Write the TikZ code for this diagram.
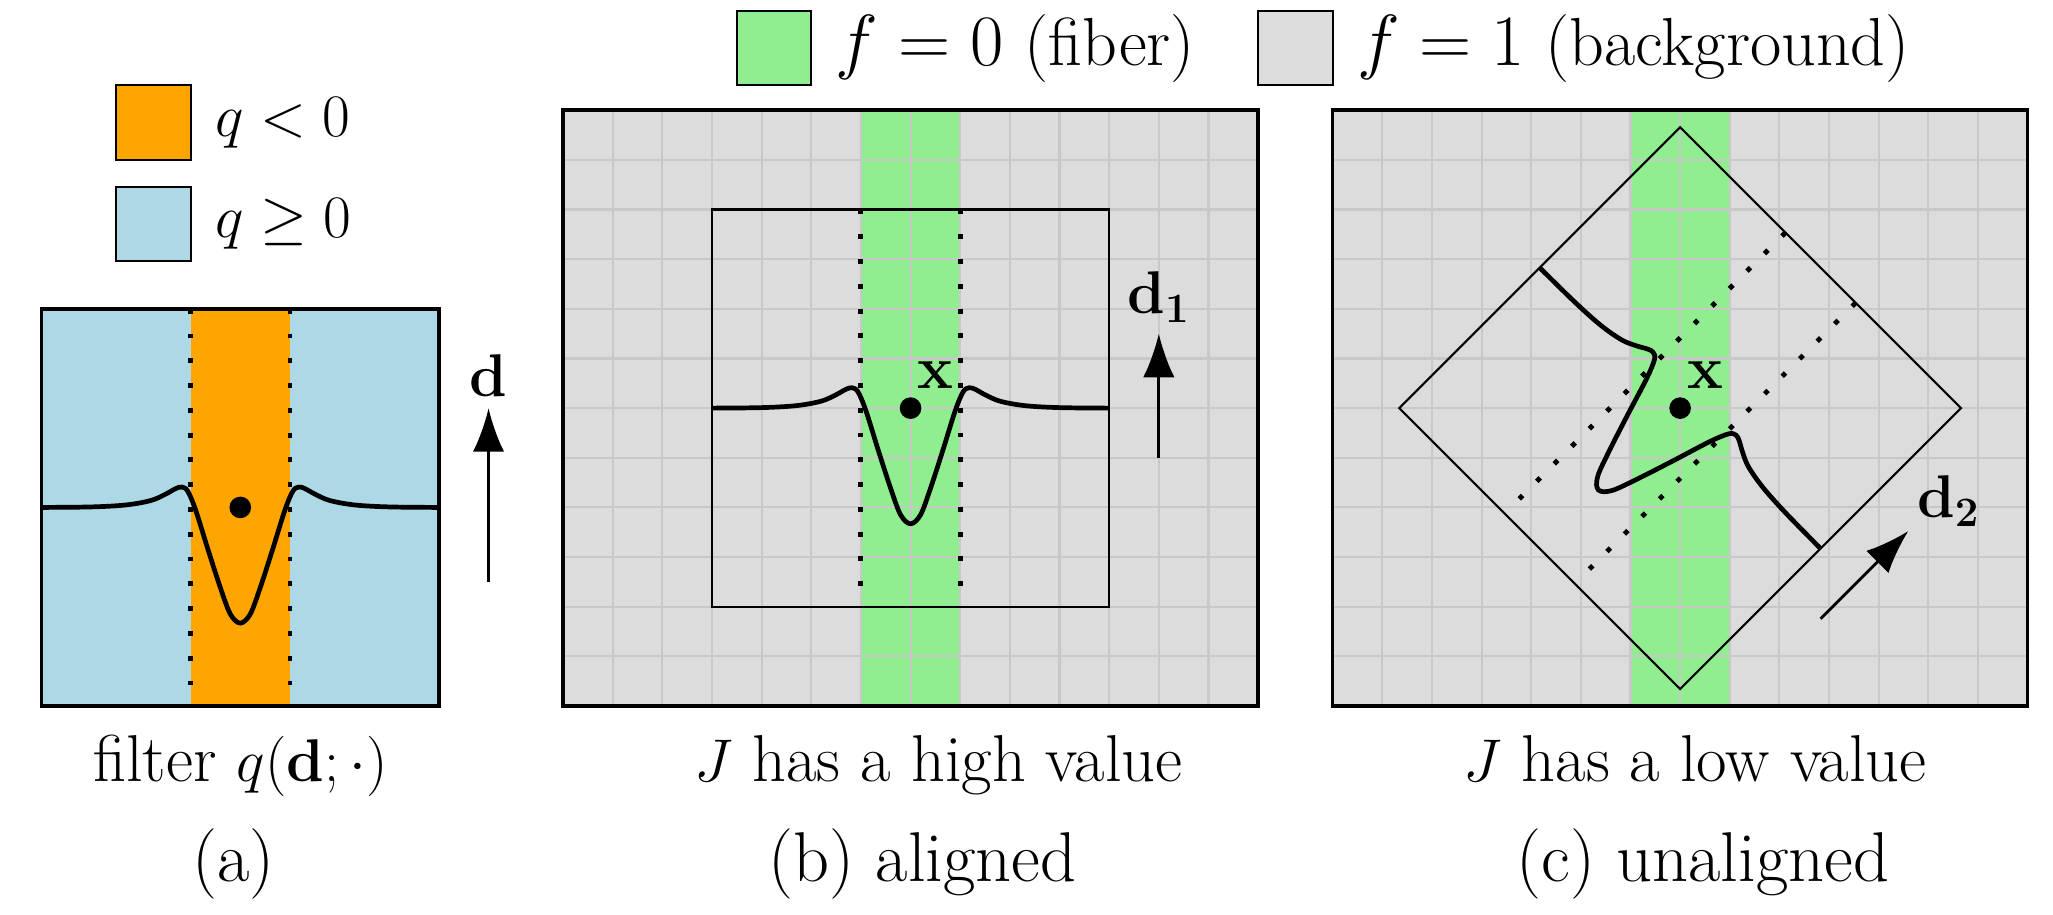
\documentclass[tikz,border=0pt]{standalone}
\usetikzlibrary{positioning, arrows.meta, graphs}
\definecolor{qneg}{RGB}{255,165,0}
\definecolor{qpos}{RGB}{173,216,230}
\definecolor{fibergreen}{RGB}{144,238,144}
\definecolor{backgray}{RGB}{220,220,220}
\definecolor{gridgray}{RGB}{200,200,200}

\begin{document}
\begin{tikzpicture}[x=0.5cm, y=0.5cm, node distance=10pt,
    >={Latex[length=12.5pt,width=9pt]},
    frame/.style={draw, line width=1pt, inner sep=0pt},
    window/.style={draw, semithick, inner sep=0pt, minimum size=4cm},
    swatch/.style={draw, semithick, minimum size=0.75cm, inner sep=0pt},
    legend/.style={inner sep=3pt, font=\fontsize{18.3}{22}\selectfont},
    caption/.style={inner sep=3pt, font=\fontsize{19}{23}\selectfont, text height=14.3pt, text depth=4.8pt},
    tag/.style={inner sep=3pt, font=\fontsize{20.2}{24}\selectfont, text height=15.2pt, text depth=5.1pt},
    vec/.style={inner sep=3pt, font=\LARGE},
    strip edge/.style={dash pattern=on 1.4pt off 5.7pt, line width=1.4pt},
    grid line/.style={gridgray, line width=0.6pt, step=1},
    dot/.style={circle, fill, inner sep=0pt, minimum size=6.2pt},
    filter wave/.pic={
        \draw[line width=1.35pt] plot[smooth, tension=0.55] coordinates {
            (-4,0) (-3,0.01) (-2.3,0.05) (-1.8,0.14) (-1.5,0.27) (-1.3,0.38)
            (-1.18,0.41) (-1.06,0.33) (-0.9,-0.05) (-0.65,-0.85) (-0.4,-1.62)
            (-0.2,-2.15) (0,-2.33) (0.2,-2.15) (0.4,-1.62) (0.65,-0.85)
            (0.9,-0.05) (1.06,0.33) (1.18,0.41) (1.3,0.38) (1.5,0.27)
            (1.8,0.14) (2.3,0.05) (3,0.01) (4,0)};
    }]
    \useasboundingbox (-18.34,-10.19) rectangle (23.01,8.22);

    \fill[qpos] (-17.5,-6) rectangle (-9.5,2);
    \fill[qneg] (-14.5,-6) rectangle (-12.5,2);
    \draw[strip edge] (-14.5,2) -- (-14.5,-6) (-12.5,2) -- (-12.5,-6);
    \pic at (-13.5,-2) {filter wave};
    \node[dot] (Center a) at (-13.5,-2) {};
    \node[frame, minimum width=4cm, minimum height=4cm] (Box a) at (-13.5,-2) {};
    \coordinate (Tail a) at (-8.5,-3.5);
    \coordinate (Tip a) at (-8.5,0);
    \node[vec, above=0pt of Tip a] (Label a) {$\mathbf{d}$};

    \node[swatch, fill=qneg] (Swatch Neg) at (-15.25,5.75) {};
    \node[swatch, fill=qpos, below=0.25cm of Swatch Neg] (Swatch Pos) {};
    \node[legend, right=3.5pt of Swatch Neg] (Legend Neg) {$q < 0$};
    \node[legend, right=3.5pt of Swatch Pos] (Legend Pos) {$q \geq 0$};

    \fill[backgray] (-7,-6) rectangle (7,6);
    \fill[fibergreen] (-1,-6) rectangle (1,6);
    \draw[grid line] (-7,-6) grid (7,6);
    \node[window] (Window b) at (0,0) {};
    \draw[strip edge] (-1,4) -- (-1,-4) (1,4) -- (1,-4);
    \pic at (0,0) {filter wave};
    \node[dot] (Center b) at (0,0) {};
    \node[vec, above right=0pt and -3.5pt of Center b] (Point b) {$\mathbf{x}$};
    \coordinate (Tail b) at (5,-1);
    \coordinate (Tip b) at (5,1.5);
    \node[vec, above=0pt of Tip b] (Label b) {$\mathbf{d_1}$};
    \node[frame, minimum width=7cm, minimum height=6cm] (Box b) at (0,0) {};

    \begin{scope}[shift={(15.5,0)}]
        \fill[backgray] (-7,-6) rectangle (7,6);
        \fill[fibergreen] (-1,-6) rectangle (1,6);
        \draw[grid line] (-7,-6) grid (7,6);
        \begin{scope}[rotate=-45]
            \node[window, rotate=-45] (Window c) at (0,0) {};
            \draw[strip edge] (-1,4) -- (-1,-4) (1,4) -- (1,-4);
            \pic[transform shape] {filter wave};
            \coordinate (Tail c) at (5,-1);
            \coordinate (Tip c) at (5,1.5);
        \end{scope}
        \node[dot] (Center c) at (0,0) {};
        \node[frame, minimum width=7cm, minimum height=6cm] (Box c) at (0,0) {};
    \end{scope}
    \node[vec, above right=0pt and -3.5pt of Center c] (Point c) {$\mathbf{x}$};
    \node[vec, above right=-2pt and -0.7pt of Tip c] (Label c) {$\mathbf{d_2}$};

    \node[swatch, fill=fibergreen] (Swatch Fiber) at (-2.75,7.25) {};
    \node[legend, font=\fontsize{19.5}{23}\selectfont, right=3.5pt of Swatch Fiber] (Legend Fiber) {$f = 0$ (fiber)};
    \node[swatch, fill=backgray] (Swatch Background) at (7.75,7.25) {};
    \node[legend, font=\fontsize{19.5}{23}\selectfont, right=3.5pt of Swatch Background] (Legend Background) {$f = 1$ (background)};

    \node[caption, below=3.6pt of Box a] (Caption a) {filter $q(\mathbf{d};\cdot)$};
    \node[tag, below=2.2pt of Caption a, xshift=-0.07cm] (Tag a) {(a)};
    \node[caption, below=3.6pt of Box b, xshift=0.28cm] (Caption b) {$J$ has a high value};
    \node[tag, below=2.2pt of Caption b, xshift=-0.16cm] (Tag b) {(b) aligned};
    \node[caption, below=3.6pt of Box c, xshift=0.15cm] (Caption c) {$J$ has a low value};
    \node[tag, below=2.2pt of Caption c, xshift=0.08cm] (Tag c) {(c) unaligned};

    \graph[edges={thick}]{
        (Tail a) -> (Tip a);
        (Tail b) -> (Tip b);
        (Tail c) -> (Tip c);
    };
\end{tikzpicture}
\end{document}
